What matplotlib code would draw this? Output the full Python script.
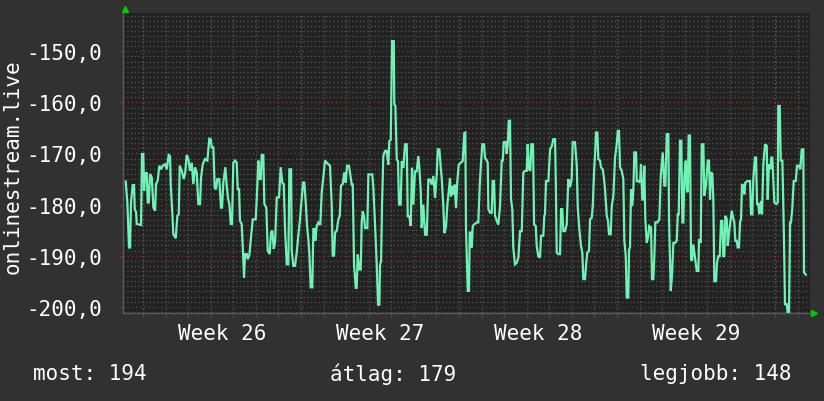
import matplotlib

matplotlib.use("Agg")

import matplotlib.pyplot as plt
from matplotlib.ticker import FixedLocator, FuncFormatter, MultipleLocator

# hours since the start of week 26, and the measured value at that time
hours = [
    -18.4, -16.7, -14.9, -13.8, -12.8, -11.0, -9.6, -8.8, -7.4, -6.7, -2.1, -1.1,
    0.3, 1.1, 2.4, 3.9, 5.0, 6.1, 7.4, 9.3, 11.0, 12.8, 13.8, 15.6, 17.3, 19.1,
    20.9, 23.4, 25.2, 27.3, 28.7, 29.5, 31.2, 32.2, 34.8, 36.5, 38.0, 39.0, 41.2,
    43.3, 44.7, 46.5, 48.2, 50.0, 51.8, 53.5, 55.3, 57.1, 58.8, 60.6, 61.7, 63.5,
    65.9, 68.4, 70.5, 72.0, 73.0, 74.8, 76.2, 77.6, 79.0, 81.1, 82.9, 84.0, 85.4,
    87.5, 89.0, 90.4, 91.8, 93.3, 94.6, 96.0,
    97.8, 99.6, 100.7, 102.1, 103.1, 104.9, 106.0, 107.4, 108.5, 110.3, 111.3,
    113.0, 114.8, 116.6, 119.8, 120.9, 122.6, 123.7, 125.2, 126.2, 127.9, 129.0,
    131.1, 132.6, 134.7, 136.1, 137.5, 139.0, 140.4, 142.2, 144.6, 146.4, 148.1,
    149.6, 151.0, 152.8, 154.5, 155.6, 157.4, 158.1, 159.8, 161.6, 163.4, 165.1,
    166.9, 168.7, 170.1, 171.5, 173.0, 174.4, 175.8, 176.8, 178.3, 180.0, 181.1,
    182.1, 183.2, 184.7, 186.4, 188.5, 190.0, 191.7, 193.5, 195.3, 197.0, 198.8,
    200.6, 201.7, 203.1, 204.2, 206.0, 207.7, 209.2, 210.5, 212.3, 214.0, 215.5,
    216.9, 219.0,
    221.9, 223.0, 224.4, 226.2, 227.2, 228.3, 230.0, 231.5, 232.5, 233.6, 235.0,
    236.1, 238.5, 239.6, 243.8, 244.9, 246.7, 248.5, 249.9, 251.3, 252.0, 253.1,
    254.1, 255.5, 257.3, 259.1, 260.8, 261.9, 263.4, 264.8, 266.6, 267.2, 268.3,
    269.8, 271.1, 272.2, 274.0, 275.1, 276.8, 278.6, 280.4, 281.5, 283.2, 284.6,
    286.0, 287.4, 289.2, 291.0, 292.7, 293.8, 295.3, 296.3, 298.0, 299.9, 301.7,
    303.4, 305.2, 307.0, 308.7, 310.5, 312.3, 313.4, 315.1, 316.6, 317.6, 319.3,
    320.4, 322.2, 323.6, 325.1, 326.4, 327.5, 328.9, 329.9, 331.4, 332.8, 334.2,
    335.7, 337.8, 339.9, 341.6, 342.7, 343.4,
    345.3, 346.6, 347.4, 348.8, 349.5, 350.6, 352.0, 354.8, 356.5, 358.0, 359.4,
    360.8, 362.6, 363.6, 365.5, 366.5, 367.2, 369.0, 370.8, 371.8, 373.2, 374.3,
    376.1, 377.8, 379.6, 381.4, 382.5, 383.5, 385.7, 386.7, 387.8, 388.9, 390.2,
    391.3, 392.7, 393.7, 395.5, 397.4, 399.1, 400.9, 402.7, 404.4, 406.2, 408.0,
    409.0, 410.4, 411.8, 412.9, 414.7, 415.8, 417.6, 418.6, 420.3, 422.1, 423.2,
    425.6, 426.7, 427.4, 428.5, 431.0, 432.8, 434.6, 436.3, 438.1, 438.8, 439.9,
    441.6, 443.4, 444.5, 445.8, 446.9, 448.7, 450.5, 452.2, 454.0, 455.8, 456.9,
    459.3, 461.2, 462.2, 463.9, 465.7, 467.1,
    468.2, 470.0, 471.0, 472.4, 474.2, 475.3, 477.1, 478.2, 479.5, 480.9, 481.7,
    483.1, 484.1, 485.9, 487.0, 488.8, 490.2, 491.2, 493.1, 494.4, 495.5, 497.3,
    498.4, 500.1, 501.9, 503.7, 504.8, 506.1, 507.2, 509.0, 510.7, 511.8, 513.3,
    514.3, 516.0, 516.8, 517.8, 518.9, 520.3, 521.4, 522.4, 524.2, 525.0, 526.7,
    528.5, 529.5, 530.9, 532.0, 533.0, 534.1, 535.6, 537.3, 538.3, 540.2, 541.2,
    542.6, 543.7, 544.7, 546.9, 549.0, 550.5, 552.6, 554.3, 555.4, 556.9, 558.6,
    559.3, 561.1, 562.5, 563.9, 565.7, 567.5, 568.6, 569.6, 571.0, 572.4, 573.5,
    574.5, 575.6, 577.1, 578.1, 579.2, 580.2, 581.6, 582.7, 583.8, 585.1,
    588.8, 590.5, 591.2, 593.0, 594.1, 595.8, 596.8, 598.6, 600.5, 601.8, 602.9,
    604.0, 605.4, 606.4, 607.5, 609.3, 610.3, 611.7, 613.2, 614.6, 616.0, 617.0,
    618.1, 619.2, 620.7, 621.7, 623.1, 624.5, 626.0, 627.7, 628.7, 629.8, 631.3,
    632.3, 633.7, 634.8, 635.9, 636.9, 638.3, 639.4, 640.4, 643.0, 645.4, 646.5,
    647.9, 648.9, 650.7, 651.8, 652.9, 654.2, 655.3, 657.1, 658.2, 659.6, 661.4,
    663.2, 664.2, 665.6, 667.0, 668.1, 669.1, 670.2, 671.3, 673.4, 674.9, 675.5,
    677.0, 678.1, 679.8, 680.8, 681.9, 682.6, 684.4, 685.5, 686.9, 688.0, 689.0,
    690.4, 691.9, 694.0, 695.4, 697.5, 698.9, 700.4, 702.1, 702.8, 704.7,
]
values = [
    -175.5, -179.6, -188.4, -188.4, -179.6, -176.2, -176.2, -180.9, -181.5, -183.8, -184.0, -170.1,
    -170.1, -177.3, -174.0, -173.7, -179.6, -179.6, -174.0, -174.7, -180.6, -181.2, -176.0, -175.3, -172.4, -173.1,
    -172.4, -172.1, -173.1, -170.3, -170.5, -176.3, -181.9, -185.8, -186.6, -182.2, -181.9, -172.4, -173.4,
    -175.0, -174.0, -170.3, -171.1, -173.4, -171.8, -176.0, -172.7, -173.7, -179.9, -179.9, -174.7, -172.1,
    -171.1, -171.4, -167.1, -167.2, -168.8, -168.8, -176.7, -177.0, -175.0, -175.0, -180.6, -180.6, -175.7,
    -172.7, -176.3, -178.9, -179.9, -183.8, -183.8, -171.8,
    -171.4, -171.8, -177.0, -177.0, -183.2, -183.8, -188.1, -194.3, -189.7, -189.7, -190.7,
    -190.0, -186.4, -182.9, -182.9, -178.9, -171.4, -175.0, -175.0, -170.3, -170.3, -179.9,
    -180.6, -189.0, -189.7, -185.5, -185.1, -188.7, -187.4, -178.6, -178.6, -172.7, -175.7,
    -176.0, -184.8, -191.7, -191.7, -173.1, -173.1, -189.0, -192.0, -192.0, -189.4, -186.1,
    -182.9, -178.9, -175.7, -175.7, -179.6, -184.2, -186.8, -189.4, -196.2, -196.2, -184.8,
    -184.8, -187.1, -184.2, -183.5, -184.0, -177.6, -174.7, -171.4, -171.8, -172.1, -172.4,
    -179.9, -190.0, -190.0, -185.5, -185.1, -182.9, -182.2, -176.3, -176.0, -173.7, -175.7,
    -172.4, -172.4,
    -176.1, -176.1, -191.8, -196.3, -196.3, -189.8, -192.7, -192.7, -183.6, -181.3, -182.3,
    -184.6, -184.6, -174.1, -174.1, -176.7, -183.9, -191.8, -199.6, -199.6, -191.8, -191.1,
    -180.3, -170.5, -169.5, -169.5, -172.2, -167.6, -167.3, -148.0, -148.0, -160.4, -160.7,
    -171.2, -171.5, -180.0, -180.0, -171.5, -172.8, -168.2, -168.2, -182.3, -182.3, -184.2,
    -172.8, -180.0, -173.5, -173.5, -170.5, -172.8, -177.4, -184.6, -180.0, -185.9, -185.9,
    -175.1, -175.1, -176.1, -174.4, -178.7, -174.1, -169.2, -169.2, -172.8, -174.8, -180.3,
    -185.6, -184.3, -180.0, -177.4, -174.8, -178.4, -176.4, -178.0, -176.1, -180.7, -175.4,
    -172.2, -171.8, -171.5, -166.0, -165.9, -184.6,
    -196.9, -196.9, -185.5, -185.5, -188.4, -184.2, -183.9, -183.5, -183.5, -176.3, -171.8,
    -168.2, -168.2, -170.8, -171.4, -171.8, -180.9, -181.6, -181.6, -175.4, -175.4, -182.2,
    -183.2, -183.9, -180.3, -171.4, -171.4, -167.8, -167.8, -170.1, -168.2, -163.6, -163.6,
    -179.0, -181.0, -188.4, -191.7, -191.4, -190.4, -185.2, -185.2, -173.7, -173.4, -173.4,
    -168.2, -173.1, -173.4, -168.2, -168.2, -183.9, -184.2, -188.1, -190.1, -190.4, -186.1,
    -186.1, -182.2, -181.9, -175.4, -175.4, -169.2, -168.6, -167.2, -167.2, -174.4, -189.4,
    -189.7, -189.7, -180.9, -180.9, -185.2, -185.2, -183.9, -175.0, -176.6, -175.0, -167.8,
    -167.8, -172.4, -180.3, -184.8, -188.1, -189.4,
    -194.6, -194.6, -192.0, -189.4, -189.1, -182.9, -182.6, -180.3, -174.0, -169.2, -165.9,
    -165.9, -171.1, -171.4, -172.7, -173.1, -175.0, -177.0, -182.2, -183.2, -185.8, -185.8,
    -180.3, -178.3, -170.8, -168.2, -165.6, -165.6, -172.7, -173.4, -175.0, -187.1, -190.1,
    -198.2, -198.2, -188.8, -188.4, -177.0, -180.3, -177.0, -169.8, -169.8, -175.4, -175.4,
    -175.7, -172.1, -179.0, -179.0, -172.4, -182.9, -187.5, -186.1, -184.2, -184.5, -194.6,
    -194.6, -190.1, -183.5, -183.5, -182.9, -174.4, -169.8, -176.3, -176.3, -166.2, -166.2,
    -182.9, -196.9, -193.9, -187.5, -187.5, -187.1, -181.9, -181.9, -167.5, -167.5, -183.5,
    -183.5, -174.4, -171.4, -177.0, -177.6, -166.5, -166.5, -190.7, -191.0, -187.8,
    -193.0, -193.0, -186.8, -187.5, -168.2, -168.2, -178.3, -176.3, -171.4, -171.4, -179.0,
    -173.7, -174.0, -179.0, -195.0, -195.0, -191.4, -190.1, -190.1, -183.2, -183.2, -190.1,
    -190.1, -182.2, -182.8, -188.1, -185.5, -183.5, -181.2, -182.8, -183.5, -187.1, -187.1,
    -188.4, -188.4, -183.5, -182.8, -176.0, -176.3, -178.0, -175.7, -175.4, -175.4, -181.9,
    -181.9, -175.0, -170.8, -170.8, -179.9, -179.9, -181.9, -179.3, -181.9, -172.1, -168.2,
    -168.5, -179.0, -172.1, -173.1, -170.8, -170.8, -175.4, -179.6, -179.9, -179.6, -160.7,
    -160.7, -171.4, -171.4, -179.9, -190.7, -199.5, -199.5, -201.2, -201.2, -183.5, -183.5,
    -180.6, -175.4, -175.4, -172.4, -172.4, -173.1, -169.2, -169.2, -193.3, -193.7,
]

week_starts = [0, 168, 336, 504, 672]
week_labels = ["Week 26", "Week 27", "Week 28", "Week 29"]
y_ticks = [-200, -190, -180, -170, -160, -150]

ylabel = "onlinestream.live"
summary_labels = ["most", "átlag", "legjobb"]
summary_values = [194, 179, 148]

BG = "#313131"
PLOT_BG = "#222222"
LINE = "#70F2B4"
MINOR = "#575757"
MAJOR = "#7a3232"
TEXT = "#ffffff"
MONO = "DejaVu Sans Mono"

fig = plt.figure(figsize=(8.24, 4.02), dpi=100, facecolor=BG)
ax = fig.add_axes([123 / 824, 88 / 402, 687 / 824, 300 / 402])
ax.set_facecolor(PLOT_BG)

ax.set_xlim(-21.3, 709.2)
ax.set_ylim(-201.23, -142.5)

# grid: daily / 1-unit minor lines, weekly / 10-unit major lines
ax.xaxis.set_minor_locator(MultipleLocator(24))
ax.yaxis.set_minor_locator(MultipleLocator(1))
ax.yaxis.set_major_locator(FixedLocator(y_ticks))
ax.xaxis.grid(True, which="minor", color=MINOR, linestyle=(0, (1, 2)), linewidth=0.9)
ax.yaxis.grid(True, which="minor", color=MINOR, linestyle=(0, (1, 2)), linewidth=0.9)
ax.yaxis.grid(True, which="major", color=MAJOR, linestyle=(0, (1, 2)), linewidth=1.0)
for ws in week_starts:
    ax.axvline(ws, color=MINOR, linestyle=(0, (1, 2)), linewidth=0.9, zorder=0.5)
ax.set_axisbelow(True)

# week labels sit in the middle of each week
mids = [s + 84 for s in week_starts[:-1]]
ax.set_xticks(mids)
ax.set_xticklabels(week_labels)
ax.tick_params(axis="x", which="major", length=0, pad=7, labelsize=15, labelcolor=TEXT)
ax.tick_params(axis="x", which="minor", length=3, color=MINOR, direction="out")
ax.tick_params(axis="y", which="major", length=3, color=MAJOR, pad=12, labelsize=15, labelcolor=TEXT)
ax.tick_params(axis="y", which="minor", length=0)
ax.yaxis.set_major_formatter(FuncFormatter(lambda v, _: f"{v:.1f}".replace(".", ",")))
for lab in ax.get_xticklabels() + ax.get_yticklabels():
    lab.set_family(MONO)

for side in ("top", "right"):
    ax.spines[side].set_visible(False)
for side in ("left", "bottom"):
    ax.spines[side].set_color("#5a5a5a")
    ax.spines[side].set_linewidth(1.0)

ax.plot(hours, values, color=LINE, linewidth=1.6, solid_joinstyle="miter", zorder=3)

# little green arrow heads at the axis ends
ax.plot([0.003], [1.013], marker="^", color="#00cc00", markersize=5, transform=ax.transAxes, clip_on=False)
ax.plot([1.006], [0.0], marker=">", color="#00cc00", markersize=5, transform=ax.transAxes, clip_on=False)

fig.text(13 / 824, 1 - 167 / 402, ylabel, rotation=90, ha="center", va="center",
         color=TEXT, fontsize=15, family=MONO)

pos = [(33 / 824, "left"), (393 / 824, "center"), (792 / 824, "right")]
for (x, ha), name, val in zip(pos, summary_labels, summary_values):
    fig.text(x, 1 - 374 / 402, f"{name}: {val}", ha=ha, va="center",
             color=TEXT, fontsize=15, family=MONO)

fig.savefig("out.png", dpi=100, facecolor=BG)
